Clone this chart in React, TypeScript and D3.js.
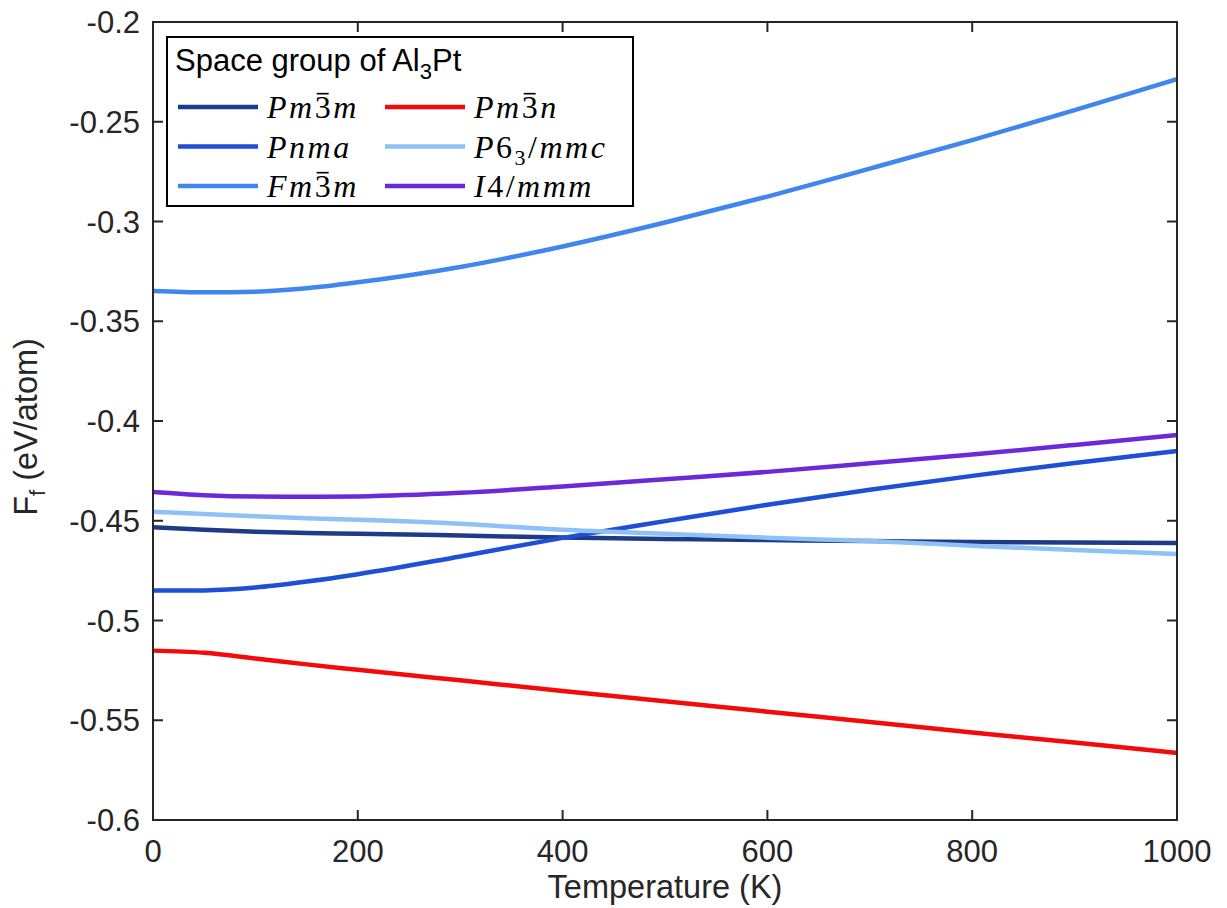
import { useEffect, useRef } from 'react'
import * as d3 from 'd3'

// temperature grid (K)
const temps = [0, 50, 100, 150, 200, 300, 400, 500, 600, 700, 800, 900, 1000]

// formation free energy (eV/atom)
const pm3m = [-0.4533, -0.4545, -0.4555, -0.4561, -0.4565, -0.4574, -0.4584, -0.4591, -0.4597, -0.4602, -0.4606, -0.4609, -0.4612]
const pnma = [-0.485, -0.4849, -0.4835, -0.4805, -0.4768, -0.4679, -0.4586, -0.4502, -0.442, -0.4345, -0.4275, -0.421, -0.415]
const fm3m = [-0.3348, -0.3355, -0.3352, -0.3335, -0.3305, -0.3228, -0.3125, -0.3005, -0.2875, -0.2735, -0.2592, -0.2442, -0.2286]
const pm3n = [-0.5151, -0.5162, -0.519, -0.522, -0.5247, -0.53, -0.5353, -0.5405, -0.5457, -0.5509, -0.5561, -0.5612, -0.5664]
const p63mmc = [-0.4455, -0.4466, -0.4478, -0.4487, -0.4495, -0.4515, -0.4545, -0.4565, -0.4585, -0.4602, -0.4625, -0.4647, -0.4667]
const i4mmm = [-0.4356, -0.4372, -0.4379, -0.438, -0.4378, -0.436, -0.4328, -0.4292, -0.4255, -0.4212, -0.4168, -0.412, -0.407]

const xTicks = [0, 200, 400, 600, 800, 1000]
const yTicks = [-0.6, -0.55, -0.5, -0.45, -0.4, -0.35, -0.3, -0.25, -0.2]

// label parts: [text, italic?, subscript?, bar?]
type Part = [string, boolean, boolean?, boolean?]
const series: { parts: Part[]; values: number[]; color: string }[] = [
  { parts: [['Pm', true], ['3', false, false, true], ['m', true]], values: pm3m, color: '#1f3b87' },
  { parts: [['Pnma', true]], values: pnma, color: '#1e4fd6' },
  { parts: [['Fm', true], ['3', false, false, true], ['m', true]], values: fm3m, color: '#3f86ee' },
  { parts: [['Pm', true], ['3', false, false, true], ['n', true]], values: pm3n, color: '#f50a0a' },
  { parts: [['P', true], ['6', false], ['3', false, true], ['/', false], ['mmc', true]], values: p63mmc, color: '#8ec2f6' },
  { parts: [['I', true], ['4/', false], ['mmm', true]], values: i4mmm, color: '#6a2ad8' },
]

const W = 1227
const H = 908
const margin = { top: 22, right: 50, bottom: 88, left: 153 }

export default function App() {
  const svgRef = useRef<SVGSVGElement>(null)

  useEffect(() => {
    if (!svgRef.current) return
    const innerW = W - margin.left - margin.right
    const innerH = H - margin.top - margin.bottom
    const svg = d3.select(svgRef.current)
    svg.selectAll('*').remove()

    const x = d3.scaleLinear().domain([0, 1000]).range([0, innerW])
    const y = d3.scaleLinear().domain([-0.6, -0.2]).range([innerH, 0])

    const g = svg.append('g').attr('transform', `translate(${margin.left},${margin.top})`)
    const axisColor = '#262626'
    const font = '"Liberation Sans", Arial, sans-serif'

    // Lines
    const line = d3.line<number>()
      .x((_, i) => x(temps[i]))
      .y(d => y(d))
      .curve(d3.curveMonotoneX)
    series.forEach(s => {
      g.append('path')
        .attr('d', line(s.values)!)
        .attr('fill', 'none')
        .attr('stroke', s.color)
        .attr('stroke-width', 4.5)
    })

    // Box + ticks on all four sides
    g.append('rect').attr('width', innerW).attr('height', innerH)
      .attr('fill', 'none').attr('stroke', axisColor).attr('stroke-width', 2)
    const tl = 10
    xTicks.forEach(t => {
      g.append('line').attr('x1', x(t)).attr('x2', x(t)).attr('y1', innerH).attr('y2', innerH - tl)
        .attr('stroke', axisColor).attr('stroke-width', 2)
      g.append('line').attr('x1', x(t)).attr('x2', x(t)).attr('y1', 0).attr('y2', tl)
        .attr('stroke', axisColor).attr('stroke-width', 2)
      g.append('text').attr('x', x(t)).attr('y', innerH + 42)
        .attr('text-anchor', 'middle').attr('font-family', font).attr('font-size', 31)
        .attr('fill', axisColor).text(String(t))
    })
    yTicks.forEach(t => {
      g.append('line').attr('x1', 0).attr('x2', tl).attr('y1', y(t)).attr('y2', y(t))
        .attr('stroke', axisColor).attr('stroke-width', 2)
      g.append('line').attr('x1', innerW).attr('x2', innerW - tl).attr('y1', y(t)).attr('y2', y(t))
        .attr('stroke', axisColor).attr('stroke-width', 2)
      g.append('text').attr('x', -13).attr('y', y(t) + 11)
        .attr('text-anchor', 'end').attr('font-family', font).attr('font-size', 31)
        .attr('fill', axisColor).text(String(+t.toFixed(2)))
    })

    // Axis labels
    g.append('text').attr('x', innerW / 2).attr('y', innerH + 78)
      .attr('text-anchor', 'middle').attr('font-family', font).attr('font-size', 32.5)
      .attr('fill', axisColor).text('Temperature (K)')
    const yl = svg.append('text')
      .attr('transform', `translate(37,${margin.top + innerH / 2 + 6}) rotate(-90)`)
      .attr('text-anchor', 'middle').attr('font-family', font).attr('font-size', 32.5)
      .attr('fill', axisColor)
    yl.append('tspan').text('F')
    yl.append('tspan').attr('font-size', 22).attr('dy', 8).text('f')
    yl.append('tspan').attr('dy', -8).text(' (eV/atom)')

    // Legend
    const lg = svg.append('g').attr('transform', 'translate(167,37)')
    lg.append('rect').attr('width', 466).attr('height', 169)
      .attr('fill', '#fff').attr('stroke', '#000').attr('stroke-width', 2)
    const title = lg.append('text').attr('x', 8).attr('y', 34)
      .attr('font-family', font).attr('font-size', 31).attr('fill', '#000')
    title.append('tspan').text('Space group of Al')
    title.append('tspan').attr('font-size', 22).attr('dy', 8).text('3')
    title.append('tspan').attr('dy', -8).text('Pt')

    const fs = 32
    series.forEach((s, i) => {
      const col = Math.floor(i / 3)
      const row = i % 3
      const lx = 11 + col * 207
      const ly = 70 + row * 39.5
      lg.append('line').attr('x1', lx).attr('x2', lx + 80).attr('y1', ly).attr('y2', ly)
        .attr('stroke', s.color).attr('stroke-width', 4.5)
      const tx = lg.append('text').attr('x', lx + 89).attr('y', ly + 11)
        .style('font-family', "'Liberation Serif', 'Times New Roman', serif")
        .attr('font-size', fs).attr('letter-spacing', 2.5).attr('fill', '#000')
      let shift = 0
      let idx = 0
      const bars: number[] = []
      s.parts.forEach(([txt, it, sub, bar]) => {
        const sp = tx.append('tspan').style('font-style', it ? 'italic' : 'normal')
        if (sub) {
          sp.attr('font-size', 22).attr('dy', 7 - shift)
          shift = 7
        } else if (shift) {
          sp.attr('dy', -shift)
          shift = 0
        }
        if (bar) bars.push(idx)
        sp.text(txt)
        idx += txt.length
      })
      const node = tx.node() as SVGTextElement
      bars.forEach(ci => {
        const ext = node.getExtentOfChar(ci)
        const by = ly + 11 - fs * 0.76
        lg.append('line')
          .attr('x1', ext.x + 2).attr('x2', ext.x + ext.width - 4.5)
          .attr('y1', by).attr('y2', by)
          .attr('stroke', '#000').attr('stroke-width', 1.6)
      })
    })
  }, [])

  return (
    <svg ref={svgRef} width={W} height={H}
      style={{ position: 'absolute', left: 0, top: 0, background: '#fff' }} />
  )
}
